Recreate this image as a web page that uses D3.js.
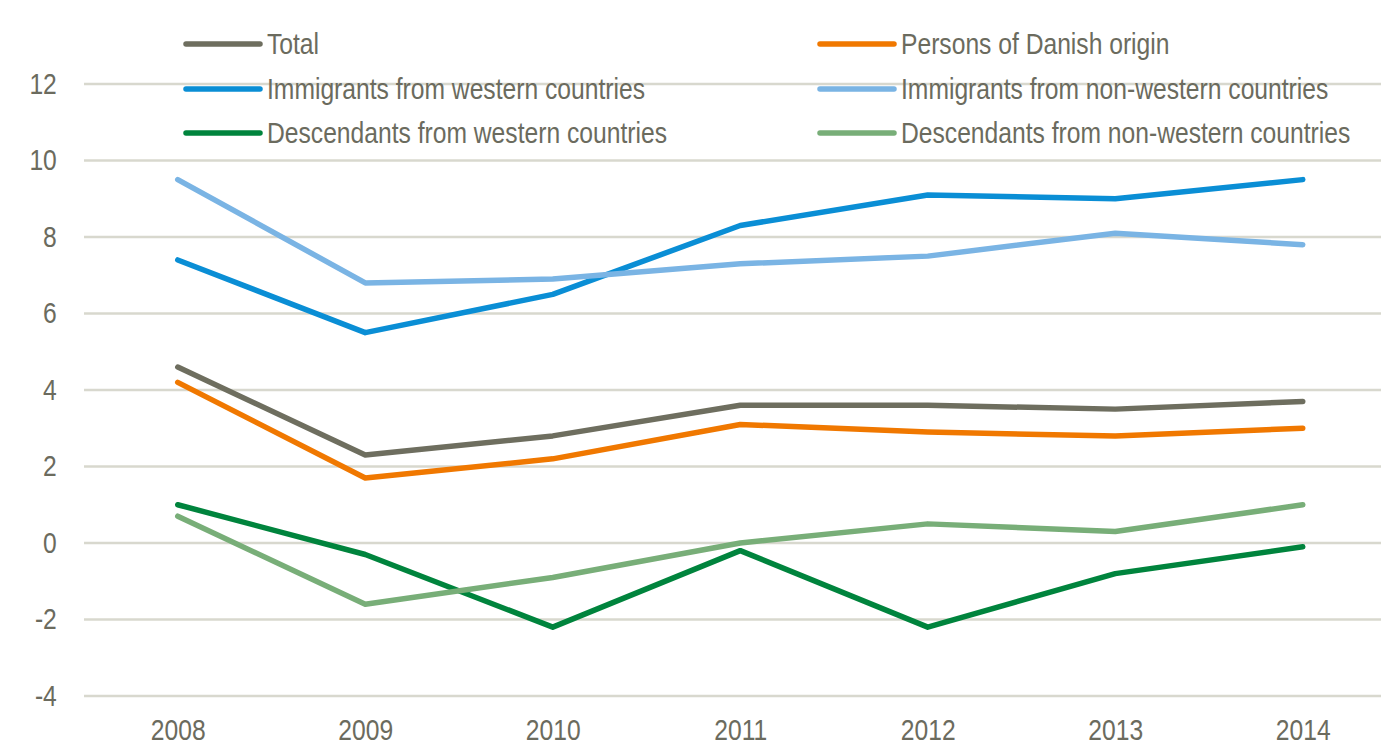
<!DOCTYPE html>
<html>
<head>
<meta charset="utf-8">
<script src="https://cdn.jsdelivr.net/npm/d3@7"></script>
<style>
  body { margin: 0; background: #fff; }
  text { font-family: "Liberation Sans", Arial, sans-serif; fill: #6b6b5e; }
</style>
</head>
<body>
<div id="chart-area"></div>
<script>
var years = ["2008", "2009", "2010", "2011", "2012", "2013", "2014"];
var yTicks = [-4, -2, 0, 2, 4, 6, 8, 10, 12];

var seriesNames = [
    "Total",
    "Persons of Danish origin",
    "Immigrants from western countries",
    "Immigrants from non-western countries",
    "Descendants from western countries",
    "Descendants from non-western countries"
];
var seriesColors = ["#6e6e5f", "#f07800", "#0a8ed5", "#7ab4e4", "#00843d", "#78ae78"];

var total = [4.6, 2.3, 2.8, 3.6, 3.6, 3.5, 3.7];
var danish = [4.2, 1.7, 2.2, 3.1, 2.9, 2.8, 3.0];
var immWestern = [7.4, 5.5, 6.5, 8.3, 9.1, 9.0, 9.5];
var immNonWestern = [9.5, 6.8, 6.9, 7.3, 7.5, 8.1, 7.8];
var descWestern = [1.0, -0.3, -2.2, -0.2, -2.2, -0.8, -0.1];
var descNonWestern = [0.7, -1.6, -0.9, 0.0, 0.5, 0.3, 1.0];

var seriesValues = [total, danish, immWestern, immNonWestern, descWestern, descNonWestern];

var svgWidth = 1381, svgHeight = 751;
var margin = { top: 84, left: 84 };
var step = 187.5;
var plotWidth = step * years.length,
    plotHeight = 612;
var fontSize = "29px",
    squeeze = "scale(0.85, 1)"; // no narrow font installed, so squash Liberation Sans

var svg = d3.select("#chart-area").append("svg")
    .attr("width", svgWidth)
    .attr("height", svgHeight);

var g = svg.append("g")
    .attr("transform", "translate(" + margin.left + ", " + margin.top + ")");

var x = d3.scalePoint().domain(years).range([step / 2, plotWidth - step / 2]);
var y = d3.scaleLinear().domain([-4, 12]).range([plotHeight, 0]);

// gridlines
g.selectAll(".grid")
    .data(yTicks)
  .enter().append("line")
    .attr("class", "grid")
    .attr("x1", 0)
    .attr("x2", plotWidth)
    .attr("y1", (d) => y(d))
    .attr("y2", (d) => y(d))
    .attr("stroke", "#d8d8ce")
    .attr("stroke-width", 2.5);

// y axis labels
var yAxis = g.append("g")
    .call(d3.axisLeft(y).tickValues(yTicks).tickFormat((d) => String(d)).tickSize(0).tickPadding(32));
yAxis.select(".domain").remove();
yAxis.selectAll("text")
    .style("font-size", fontSize)
    .style("font-family", null)
    .attr("fill", null)
    .attr("transform", squeeze);

// x axis labels
var xAxis = g.append("g")
    .attr("transform", "translate(0, " + plotHeight + ")")
    .call(d3.axisBottom(x).tickSize(0).tickPadding(23));
xAxis.select(".domain").remove();
xAxis.selectAll("text")
    .style("font-size", fontSize)
    .style("font-family", null)
    .attr("fill", null)
    .attr("transform", squeeze);

var line = d3.line()
    .x((d, i) => x(years[i]))
    .y((d) => y(d));

g.selectAll(".series")
    .data(seriesValues)
  .enter().append("path")
    .attr("class", "series")
    .attr("d", line)
    .attr("fill", "none")
    .attr("stroke", (d, i) => seriesColors[i])
    .attr("stroke-width", 5.5)
    .attr("stroke-linejoin", "round")
    .attr("stroke-linecap", "round");

// legend, two columns of three rows
var legendCols = [184, 818];
var legendRows = [44, 89, 133];

var legend = svg.selectAll(".legend")
    .data(seriesNames)
  .enter().append("g")
    .attr("class", "legend")
    .attr("transform", (d, i) => "translate(" + legendCols[i % 2] + ", " + legendRows[Math.floor(i / 2)] + ")");

legend.append("line")
    .attr("x1", 2)
    .attr("x2", 76)
    .attr("stroke", (d, i) => seriesColors[i])
    .attr("stroke-width", 5.5)
    .attr("stroke-linecap", "round");

legend.append("text")
    .attr("transform", "translate(83, 0) " + squeeze)
    .attr("dy", "0.35em")
    .style("font-size", fontSize)
    .text((d) => d);
</script>
</body>
</html>
